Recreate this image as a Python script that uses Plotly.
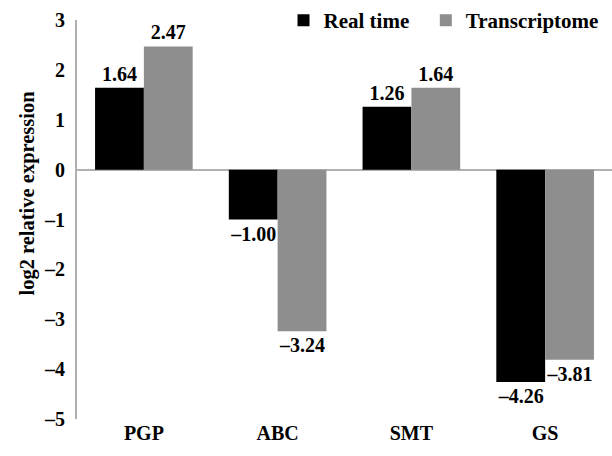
import plotly.graph_objects as go

genes = ["PGP", "ABC", "SMT", "GS"]
real_time = [1.64, -1.00, 1.26, -4.26]
transcriptome = [2.47, -3.24, 1.64, -3.81]
y_ticks = [3, 2, 1, 0, -1, -2, -3, -4, -5]


def fmt(v):
    s = f"{abs(v):.2f}"
    return ("\u2013" + s) if v < 0 else s


def tick_label(v):
    return ("\u2013" + str(abs(v))) if v < 0 else str(v)


font_family = "Liberation Serif, Times New Roman, serif"
label_font = dict(family=font_family, size=20, color="#000000")
legend_font = dict(family=font_family, size=21, color="#000000")
axis_grey = "#b0b0b0"

fig = go.Figure()
fig.add_trace(go.Bar(
    name="<b>Real time</b>", x=genes, y=real_time,
    marker=dict(color="#000000", line=dict(width=0)),
    text=["<b>" + fmt(v) + "</b>" for v in real_time], textposition="outside",
    textfont=label_font, cliponaxis=False, legend="legend",
))
fig.add_trace(go.Bar(
    name="<b>Transcriptome</b>", x=genes, y=transcriptome,
    marker=dict(color="#8e8e8e", line=dict(width=0)),
    text=["<b>" + fmt(v) + "</b>" for v in transcriptome], textposition="outside",
    textfont=label_font, cliponaxis=False, legend="legend2",
))

# Rotated y-axis caption, placed as a paper-referenced annotation
fig.add_annotation(
    text="<b>log2 relative expression</b>", textangle=-90,
    xref="paper", yref="paper", x=-0.092, y=0.567,
    xanchor="center", yanchor="middle", showarrow=False,
    font=dict(family=font_family, size=20.5, color="#000000"),
)

fig.update_layout(
    width=612, height=456,
    margin=dict(l=77, r=0, t=17, b=37),
    paper_bgcolor="white", plot_bgcolor="white",
    barmode="group", bargap=0.27, bargroupgap=0,
    font=dict(family=font_family, size=20, color="#000000"),
    showlegend=True,
    legend=dict(
        orientation="h", x=0.386, xanchor="left", y=1.05, yanchor="top",
        font=legend_font, bgcolor="rgba(0,0,0,0)",
    ),
    legend2=dict(
        orientation="h", x=0.652, xanchor="left", y=1.05, yanchor="top",
        font=legend_font, bgcolor="rgba(0,0,0,0)",
    ),
    xaxis=dict(
        showline=False, showgrid=False, ticks="", automargin=False,
        tickfont=label_font,
        tickvals=genes, ticktext=["<b>" + g + "</b>" for g in genes],
    ),
    yaxis=dict(
        range=[-5, 3], tickvals=y_ticks,
        ticktext=["<b>" + tick_label(v) + "</b>" for v in y_ticks],
        showgrid=False, zeroline=True, zerolinecolor=axis_grey, zerolinewidth=2,
        showline=True, linecolor=axis_grey, linewidth=2, ticks="",
        automargin=False, ticklabelstandoff=6,
        tickfont=label_font,
    ),
)

fig.write_html("out.html")
